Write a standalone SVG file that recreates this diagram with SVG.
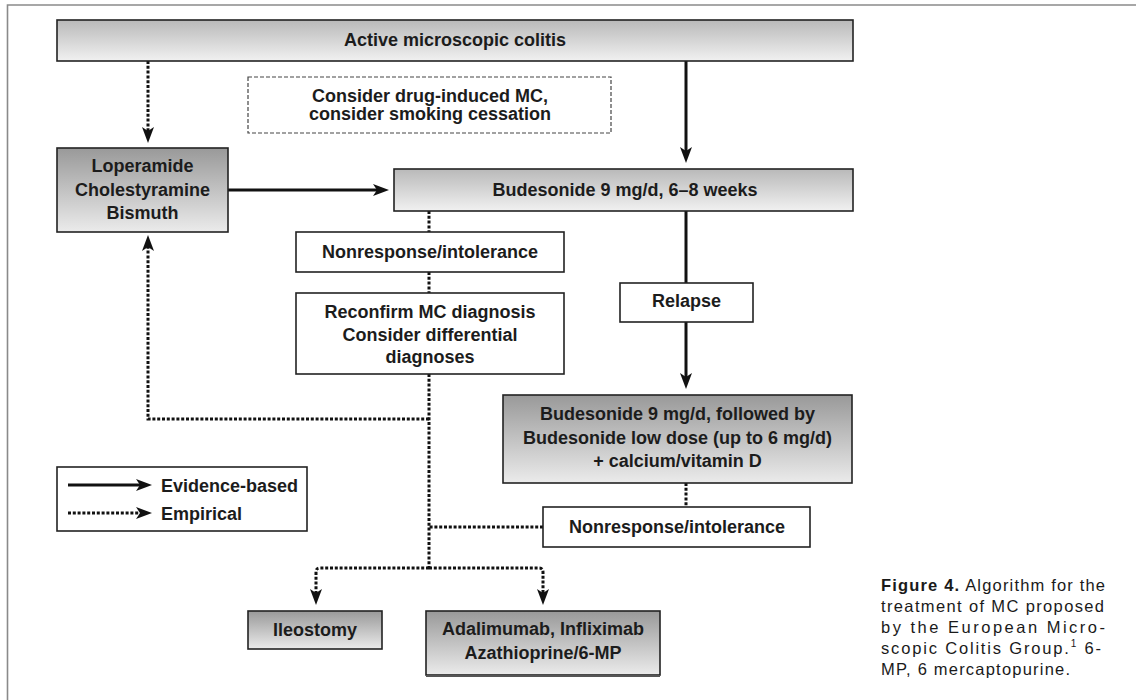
<svg xmlns="http://www.w3.org/2000/svg" width="1136" height="700" viewBox="0 0 1136 700">
<style>
.box{stroke:#222;stroke-width:1.6}
.plain{fill:#fff}
.dbox{fill:#fff;stroke:#444;stroke-width:1.2;stroke-dasharray:4 2}
.t{font-family:"Liberation Sans",Arial,Helvetica,sans-serif;font-weight:bold;font-size:18px;fill:#1c1c1c;text-anchor:middle}
.tl{text-anchor:start}
.cap{font-family:"Liberation Sans",Arial,Helvetica,sans-serif;font-size:16.5px;fill:#1a1a1a}
.solid{fill:none;stroke:#111;stroke-width:3}
.dash{fill:none;stroke:#111;stroke-width:3;stroke-dasharray:3 1.8}
.frame{fill:none;stroke:#8a8a8a;stroke-width:1.6}
</style>
<defs>
<linearGradient id="gLight" x1="0" y1="0" x2="0" y2="1">
<stop offset="0" stop-color="#b9b9b9"/><stop offset="1" stop-color="#f1f1f1"/>
</linearGradient>
<linearGradient id="gDark" x1="0" y1="0" x2="0" y2="1">
<stop offset="0" stop-color="#999"/><stop offset="1" stop-color="#ebebeb"/>
</linearGradient>
<marker id="ah" markerUnits="userSpaceOnUse" viewBox="0 0 16 12" refX="8" refY="6" markerWidth="16" markerHeight="12" orient="auto">
<path d="M0,0 L16,6 L0,12 L4,6 z" fill="#111"/>
</marker>
</defs>

<path class="frame" d="M1136,5 H7.5 V700"/>

<g id="connectors">
<path class="dash" d="M148,61 V135" marker-end="url(#ah)"/>
<path class="solid" d="M686,61 V155" marker-end="url(#ah)"/>
<path class="solid" d="M228,190 H381" marker-end="url(#ah)"/>
<path class="dash" d="M429,211 V232"/>
<path class="dash" d="M429,272 V293"/>
<path class="dash" d="M429,374 V568"/>
<path class="dash" d="M429,419 H148 V243" marker-end="url(#ah)"/>
<path class="solid" d="M686,211 V283"/>
<path class="solid" d="M686,322 V381" marker-end="url(#ah)"/>
<path class="dash" d="M686,483 V507"/>
<path class="dash" d="M543,527 H429"/>
<path class="dash" d="M429,568 H320 Q316,568 316,572 V597" marker-end="url(#ah)"/>
<path class="dash" d="M429,568 H539 Q543,568 543,572 V597" marker-end="url(#ah)"/>
</g>

<g id="n-active">
<rect class="box" x="57" y="20" width="796" height="41" fill="url(#gLight)"/>
<text class="t" x="455" y="45.5">Active microscopic colitis</text>
</g>

<g id="n-consider">
<rect class="dbox" x="248" y="77" width="363" height="56"/>
<text class="t" x="430" y="101.5">Consider drug-induced MC,</text>
<text class="t" x="430" y="119.5">consider smoking cessation</text>
</g>

<g id="n-loperamide">
<rect class="box" x="57" y="148" width="171" height="84" fill="url(#gDark)"/>
<text class="t" x="142.5" y="172">Loperamide</text>
<text class="t" x="142.5" y="195.5">Cholestyramine</text>
<text class="t" x="142.5" y="218.5">Bismuth</text>
</g>

<g id="n-budesonide">
<rect class="box" x="394" y="169" width="459" height="42" fill="url(#gLight)"/>
<text class="t" x="625" y="195.5">Budesonide 9 mg/d, 6–8 weeks</text>
</g>

<g id="n-nonresponse1">
<rect class="box plain" x="296" y="232" width="268" height="40"/>
<text class="t" x="430" y="258">Nonresponse/intolerance</text>
</g>

<g id="n-reconfirm">
<rect class="box plain" x="296" y="293" width="268" height="81"/>
<text class="t" x="430" y="318">Reconfirm MC diagnosis</text>
<text class="t" x="430" y="341">Consider differential</text>
<text class="t" x="430" y="363">diagnoses</text>
</g>

<g id="n-relapse">
<rect class="box plain" x="620" y="283" width="133" height="39"/>
<text class="t" x="686.5" y="307">Relapse</text>
</g>

<g id="n-budesonide2">
<rect class="box" x="503" y="395" width="349" height="88" fill="url(#gDark)"/>
<text class="t" x="677.5" y="420">Budesonide 9 mg/d, followed by</text>
<text class="t" x="677.5" y="444">Budesonide low dose (up to 6 mg/d)</text>
<text class="t" x="677.5" y="467">+ calcium/vitamin D</text>
</g>

<g id="n-nonresponse2">
<rect class="box plain" x="543" y="507" width="267" height="40"/>
<text class="t" x="677" y="532.5">Nonresponse/intolerance</text>
</g>

<g id="n-ileostomy">
<rect class="box" x="248" y="611" width="134" height="38" fill="url(#gDark)"/>
<text class="t" x="315" y="635.5">Ileostomy</text>
</g>

<g id="n-adalimumab">
<rect class="box" x="426" y="611" width="234" height="64" fill="url(#gDark)"/>
<path d="M426,676 H660" stroke="#555" stroke-width="2"/>
<text class="t" x="543" y="635">Adalimumab, Infliximab</text>
<text class="t" x="543" y="659">Azathioprine/6-MP</text>
</g>

<g id="legend">
<rect class="box plain" x="57" y="467" width="250" height="64"/>
<path class="solid" d="M68,485 H144" marker-end="url(#ah)"/>
<text class="t tl" x="161" y="491.5">Evidence-based</text>
<path class="dash" d="M68,513 H144" marker-end="url(#ah)"/>
<text class="t tl" x="161" y="519.5">Empirical</text>
</g>

<g id="caption">
<text class="cap" x="881" y="591" textLength="224"><tspan font-weight="bold">Figure 4.</tspan> Algorithm for the</text>
<text class="cap" x="881" y="612" textLength="223">treatment of MC proposed</text>
<text class="cap" x="881" y="633" textLength="224">by the European Micro-</text>
<text class="cap" x="881" y="654" textLength="220">scopic Colitis Group.<tspan font-size="10" dy="-7">1</tspan><tspan dy="7"> 6-</tspan></text>
<text class="cap" x="881" y="675" textLength="189">MP, 6 mercaptopurine.</text>
</g>
</svg>
